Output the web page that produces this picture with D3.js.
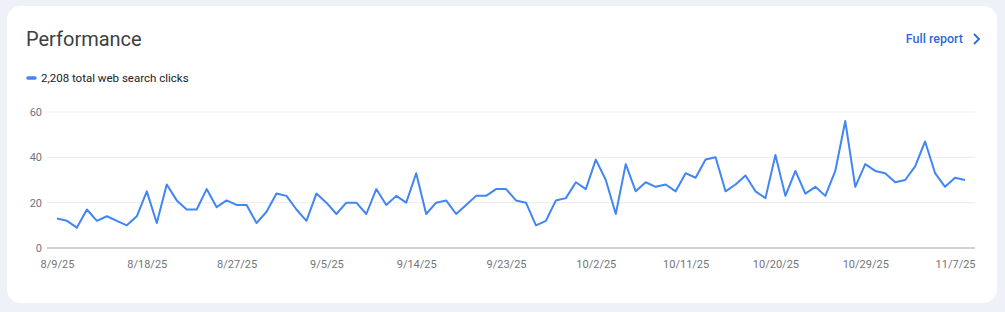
<!DOCTYPE html>
<html>
<head>
<meta charset="utf-8">
<script src="https://cdn.jsdelivr.net/npm/d3@7"></script>
<style>
  html, body { margin: 0; padding: 0; background: #eef2f8; }
  body { width: 1005px; height: 312px; overflow: hidden; font-family: Roboto, "Noto Sans", Arial, sans-serif; }
</style>
</head>
<body>
<div id="chart"></div>
<script>
const W = 1005, H = 312

// daily clicks, 8/9/25 .. 11/8/25
const startDate = "2025-08-09"
const clicks = [
  13, 12, 9, 17, 12, 14, 12, 10, 14, 25, 11, 28, 21, 17, 17, 26,
  18, 21, 19, 19, 11, 16, 24, 23, 17, 12, 24, 20, 15, 20, 20,
  15, 26, 19, 23, 20, 33, 15, 20, 21, 15, 19, 23, 23, 26, 26,
  21, 20, 10, 12, 21, 22, 29, 26, 39, 30, 15, 37, 25, 29, 27,
  28, 25, 33, 31, 39, 40, 25, 28, 32, 25, 22, 41, 23, 34, 24,
  27, 23, 34, 56, 27, 37, 34, 33, 29, 30, 36, 47, 33, 27, 31, 30
]
const yTicks = [0, 20, 40, 60]
const xTickEvery = 9
const totalLabel = "2,208 total web search clicks"

const parse = d3.timeParse("%Y-%m-%d")
const day0 = parse(startDate)
const data = clicks.map((v, i) => ({ date: d3.timeDay.offset(day0, i), value: v }))

const MARGIN = { LEFT: 47, RIGHT: 30, TOP: 112, BOTTOM: 64 }

const svg = d3.select("#chart").append("svg")
  .attr("width", W)
  .attr("height", H)

// card
svg.append("rect")
  .attr("x", 7).attr("y", 6)
  .attr("width", 990).attr("height", 297)
  .attr("rx", 14)
  .attr("fill", "#ffffff")

// header
svg.append("text")
  .attr("x", 26).attr("y", 46)
  .attr("font-size", "20px")
  .attr("fill", "#3c4043")
  .text("Performance")

svg.append("text")
  .attr("x", 963).attr("y", 43)
  .attr("text-anchor", "end")
  .attr("font-size", "12.5px")
  .attr("font-weight", 500)
  .attr("fill", "#2f6ad9")
  .text("Full report")

svg.append("path")
  .attr("d", "M974,34 L979,39 L974,44")
  .attr("fill", "none")
  .attr("stroke", "#2f6ad9")
  .attr("stroke-width", 1.8)

// legend
svg.append("line")
  .attr("x1", 28).attr("x2", 35)
  .attr("y1", 78).attr("y2", 78)
  .attr("stroke", "#4285f4")
  .attr("stroke-width", 3.5)
  .attr("stroke-linecap", "round")

svg.append("text")
  .attr("x", 41).attr("y", 82)
  .attr("font-size", "11.5px")
  .attr("fill", "#202124")
  .text(totalLabel)

// scales
const x = d3.scaleTime()
  .domain([d3.timeDay.offset(day0, -1), d3.timeDay.offset(day0, clicks.length)])
  .range([MARGIN.LEFT, W - MARGIN.RIGHT])
const y = d3.scaleLinear()
  .domain([0, 60])
  .range([H - MARGIN.BOTTOM, MARGIN.TOP])

// grid
const grid = svg.append("g")
grid.selectAll("line")
  .data(yTicks)
  .enter().append("line")
  .attr("x1", x.range()[0]).attr("x2", x.range()[1])
  .attr("y1", d => y(d)).attr("y2", d => y(d))
  .attr("stroke", d => d === 0 ? "#bdc1c6" : "#ececec")
  .attr("stroke-width", d => d === 0 ? 1.5 : 1)

// y axis labels
const yAxis = d3.axisLeft(y).tickValues(yTicks).tickSize(0).tickPadding(5)
svg.append("g")
  .attr("transform", `translate(${MARGIN.LEFT}, 0)`)
  .call(yAxis)
  .call(g => g.select(".domain").remove())
  .call(g => g.selectAll("text")
    .attr("font-family", "Roboto, sans-serif")
    .attr("font-size", "11px")
    .attr("fill", "#70757a"))

// x axis labels
const xTicks = data.filter((d, i) => i % xTickEvery === 0).map(d => d.date)
const xAxis = d3.axisBottom(x)
  .tickValues(xTicks)
  .tickFormat(d => d3.timeFormat("%-m/%-d/%y")(d))
  .tickSize(0).tickPadding(12)
svg.append("g")
  .attr("transform", `translate(0, ${y(0)})`)
  .call(xAxis)
  .call(g => g.select(".domain").remove())
  .call(g => g.selectAll("text")
    .attr("font-family", "Roboto, sans-serif")
    .attr("font-size", "11px")
    .attr("fill", "#70757a"))

// line
const line = d3.line()
  .x(d => x(d.date))
  .y(d => y(d.value))

svg.append("path")
  .datum(data)
  .attr("fill", "none")
  .attr("stroke", "#4285f4")
  .attr("stroke-width", 2)
  .attr("stroke-linejoin", "round")
  .attr("d", line)
</script>
</body>
</html>
